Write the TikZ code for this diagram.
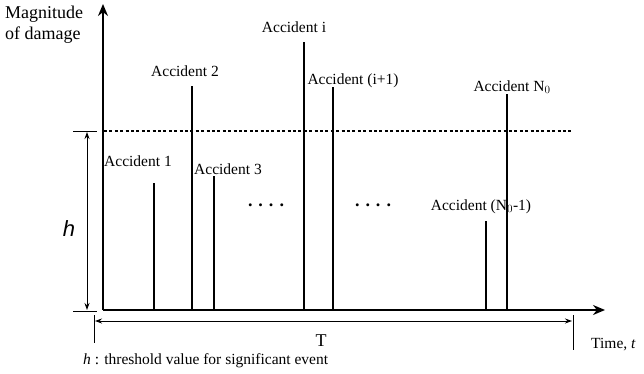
\documentclass[tikz,border=0pt]{standalone}
\usepackage{fontspec}
\setmainfont{Liberation Serif}
\newfontfamily\hfont{Liberation Sans}
\usetikzlibrary{arrows.meta}

\begin{document}
\begin{tikzpicture}[
        x=1pt, y=-1pt,
        every node/.style={inner sep=0pt, font=\fontsize{15.5}{17}\selectfont},
        label/.style={anchor=center},
        axis/.style={line width=1.8pt, -{Stealth[length=12pt, width=10pt]}},
        spike/.style={line width=1.8pt},
        threshold/.style={line width=1.5pt, dash pattern=on 3pt off 2.4pt},
        thin/.style={line width=0.9pt},
        dim/.style={thin, {Stealth[length=7pt, width=5pt]}-{Stealth[length=7pt, width=5pt]}}
    ]
    \useasboundingbox (0,0) rectangle (644,374);

    % Axes
    \coordinate (origin) at (103,310);
    \coordinate (ytop) at (103,4);
    \coordinate (xend) at (605,310);
    \draw [axis] (origin) -- (ytop);
    \draw [axis] (origin) -- (xend);

    % Threshold
    \coordinate (th west) at (104,131);
    \coordinate (th east) at (573,131);
    \draw [threshold] (th west) -- (th east);

    % Spikes
    \foreach \name/\x/\top in {a1/154/183, a2/192/86, a3/214/176, ai/304/42,
                              aii/333/87, an1/486/221, an/507/94} {
        \coordinate (\name base) at (\x,310);
        \coordinate (\name top) at (\x,\top);
        \draw [spike] (\name base) -- (\name top);
    }

    % Nodes
    \node (ylabel) [anchor=west, align=left, font=\fontsize{18}{21}\selectfont] at (5,25) {Magnitude\\of damage};
    \node (l1) [label] at (138,161) {Accident 1};
    \node (l2) [label] at (185,71) {Accident 2};
    \node (l3) [label] at (228,169) {Accident 3};
    \node (li) [label] at (294,27) {Accident i};
    \node (lii) [label] at (353,81) {Accident (i+1)};
    \node (ln1) [label] at (481,207) {Accident (N$_0$-1)};
    \node (ln) [label] at (512,87) {Accident N$_0$};
    \node (dots1) [font=\fontsize{18}{20}\bfseries] at (266,205) {.\hspace{6pt}.\hspace{6pt}.\hspace{6pt}.};
    \node (dots2) [font=\fontsize{18}{20}\bfseries] at (373,205) {.\hspace{6pt}.\hspace{6pt}.\hspace{6pt}.};
    \node (hlabel) [font=\fontsize{22}{24}\selectfont\hfont\itshape] at (69,229) {h};
    \node (period) [font=\fontsize{18}{20}\selectfont] at (321,341) {T};
    \node (xlabel) [anchor=west] at (591,345) {Time, \textit{t}};
    \node (note) [anchor=west] at (83,361) {\textit{h} : threshold value for significant event};

    % Dimension of h
    \coordinate (h top west) at (73,131);
    \coordinate (h top east) at (97,131);
    \coordinate (h bot west) at (73,311);
    \coordinate (h bot east) at (97,311);
    \draw [thin] (h top west) -- (h top east);
    \draw [thin] (h bot west) -- (h bot east);
    \draw [dim] (87,132) -- (87,310);

    % Dimension of T
    \coordinate (T west top) at (94,315);
    \coordinate (T west bot) at (94,343);
    \coordinate (T east top) at (573,315);
    \coordinate (T east bot) at (573,350);
    \draw [thin] (T west top) -- (T west bot);
    \draw [thin] (T east top) -- (T east bot);
    \draw [dim] (95,321) -- (572,321);

    \end{tikzpicture}
\end{document}
